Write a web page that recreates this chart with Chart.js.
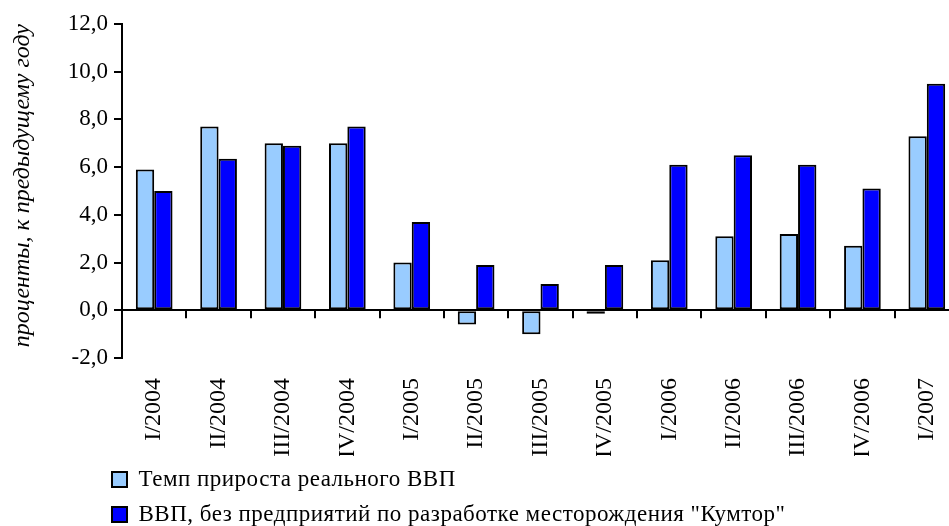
<!DOCTYPE html>
<html lang="ru">
<head>
  <meta charset="UTF-8" />
  <title>Темп прироста ВВП</title>
  <script src="https://cdn.jsdelivr.net/npm/chart.js"></script>
  <style>
    html, body {
      margin: 0;
      padding: 0;
      background: #fff;
      overflow: hidden;
    }
    .chart-box {
      width: 960px;
      height: 526px;
    }
  </style>
</head>
<body>
  <div class="chart-box">
    <canvas id="gdpChart"></canvas>
  </div>

  <script>
    const quarters = ['I/2004', 'II/2004', 'III/2004', 'IV/2004', 'I/2005', 'II/2005', 'III/2005',
      'IV/2005', 'I/2006', 'II/2006', 'III/2006', 'IV/2006', 'I/2007'];
    const realGdp = [5.9, 7.7, 7.0, 7.0, 2.0, -0.6, -1.0, -0.15, 2.1, 3.1, 3.2, 2.7, 7.3];
    const gdpNoKumtor = [5.0, 6.35, 6.9, 7.7, 3.7, 1.9, 1.1, 1.9, 6.1, 6.5, 6.1, 5.1, 9.5];
    const seriesNames = ['Темп прироста реального ВВП',
      'ВВП, без предприятий по разработке месторождения "Кумтор"'];
    const yTitle = 'проценты, к предыдущему году';

    const serif = '"Liberation Serif", "Times New Roman", serif';

    // small tick marks hanging under the zero line, between categories
    const zeroTicks = {
      id: 'zeroTicks',
      afterDatasetsDraw(chart) {
        const x = chart.scales.x, y = chart.scales.y;
        const y0 = y.getPixelForValue(0);
        const ctx = chart.ctx;
        ctx.save();
        ctx.strokeStyle = '#000';
        ctx.lineWidth = 2;
        ctx.beginPath();
        for (let i = 1; i <= quarters.length; i++) {
          const px = Math.round(x.getPixelForValue(i - 0.5));
          ctx.moveTo(px, y0);
          ctx.lineTo(px, y0 + 8);
        }
        ctx.stroke();
        ctx.restore();
      }
    };

    // legend: two rows, starting under the plot instead of at the canvas edge
    const legendLayout = {
      id: 'legendLayout',
      beforeLayout(chart) {
        const lg = chart.legend;
        if (lg && !lg._patched) {
          const fit = lg.fit;
          lg.fit = function () {
            fit.call(this);
            this.height = 70;
          };
          const draw = lg.draw;
          lg.draw = function () {
            const c = this.ctx;
            c.save();
            c.letterSpacing = '0.5px';
            draw.call(this);
            c.restore();
          };
          lg._patched = true;
        }
      },
      beforeDraw(chart) {
        chart.legend.left = 100;
      }
    };

    new Chart(document.getElementById('gdpChart'), {
      type: 'bar',
      data: {
        labels: quarters,
        datasets: [{
          label: seriesNames[0],
          data: realGdp,
          backgroundColor: '#99ccff',
          borderColor: '#000',
          borderWidth: 2,
          borderSkipped: false
        }, {
          label: seriesNames[1],
          data: gdpNoKumtor,
          backgroundColor: '#0000ff',
          borderColor: '#000',
          borderWidth: 2,
          borderSkipped: false
        }]
      },
      options: {
        responsive: true,
        maintainAspectRatio: false,
        animation: false,
        layout: { padding: { top: 24, right: 1, left: 0, bottom: 0 } },
        datasets: {
          bar: { categoryPercentage: 0.57, barPercentage: 1 }
        },
        plugins: {
          tooltip: { enabled: false },
          legend: {
            position: 'bottom',
            align: 'start',
            labels: {
              color: '#000',
              font: { family: serif, size: 23 },
              boxWidth: 15,
              boxHeight: 15,
              padding: 12
            }
          }
        },
        scales: {
          x: {
            border: { display: false },
            grid: { display: false, drawTicks: false },
            ticks: {
              color: '#000',
              font: { family: serif, size: 24 },
              minRotation: 90,
              maxRotation: 90,
              padding: 20,
              autoSkip: false
            },
            afterFit(scale) {
              scale.height = 98;
              scale.paddingLeft = 0;
              scale.paddingRight = 0;
            }
          },
          y: {
            min: -2,
            max: 12,
            border: { display: true, color: '#000', width: 2 },
            grid: {
              color: ctx => ctx.tick && ctx.tick.value === 0 ? '#000' : 'rgba(0,0,0,0)',
              lineWidth: 2,
              tickColor: '#000',
              tickLength: 8
            },
            ticks: {
              stepSize: 2,
              color: '#000',
              padding: 6,
              font: { family: serif, size: 23 },
              callback: v => v.toFixed(1).replace('.', ',')
            },
            title: {
              display: true,
              text: yTitle,
              align: 'end',
              color: '#000',
              font: { family: serif, size: 24, style: 'italic' },
              padding: { top: 8, bottom: 0 }
            },
            afterFit(scale) { scale.width = 122; }
          }
        }
      },
      plugins: [zeroTicks, legendLayout]
    });
  </script>
</body>
</html>
